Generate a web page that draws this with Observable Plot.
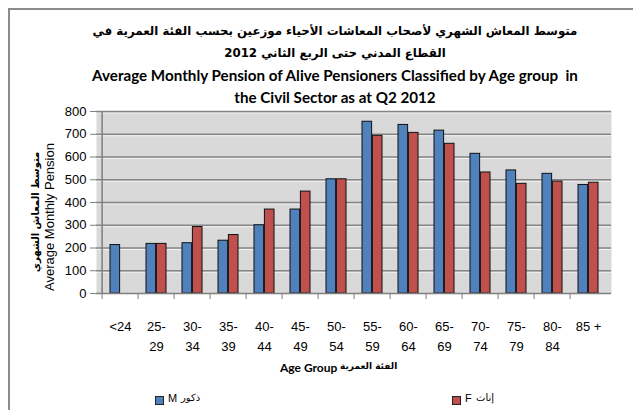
<!DOCTYPE html>
<html>
<head>
<meta charset="utf-8">
<script src="https://cdn.jsdelivr.net/npm/d3@7"></script>
<script src="https://cdn.jsdelivr.net/npm/@observablehq/plot@0.6"></script>
<style>
  html, body { margin: 0; padding: 0; background: #fff; }
  #wrap { position: relative; width: 633px; height: 410px; overflow: hidden; background: #fff; }
  #border { position: absolute; left: 8px; top: 8px; width: 640px; height: 420px; border-left: 2px solid #8c8c8c; border-top: 2px solid #8c8c8c; box-sizing: border-box; }
  .t { position: absolute; left: 35px; width: 600px; text-align: center; white-space: nowrap; color: #000; font-weight: bold; }
  .ar { font-family: "DejaVu Sans", sans-serif; font-size: 11.8px; direction: rtl; }
  .en { font-family: Lato, "Open Sans", sans-serif; font-size: 15.2px; }
  #chart { position: absolute; left: 0; top: 100px; }
  .lab { position: absolute; white-space: nowrap; color: #000; }
  .sw { position: absolute; width: 7px; height: 7px; border: 1px solid #222; }
</style>
</head>
<body>
<div id="wrap">
  <div id="border"></div>
  <div class="t ar" style="top:24px;">متوسط المعاش الشهري لأصحاب المعاشات الأحياء موزعين بحسب الفئة العمرية في</div>
  <div class="t ar" style="top:46px;">القطاع المدني حتى الربع الثاني 2012</div>
  <div class="t en" style="top:66px;">Average Monthly Pension of Alive Pensioners Classified by Age group&nbsp; in</div>
  <div class="t en" style="top:88px;">the Civil Sector as at Q2 2012</div>
  <div id="chart"></div>
  <div class="lab" style="left:280px; top:360px; font-family:Lato, sans-serif; font-weight:bold; font-size:12px;">Age Group</div>
  <div class="lab" style="left:340px; top:361px; font-family:'DejaVu Sans', sans-serif; font-weight:bold; font-size:9px; direction:rtl;">الفئة العمرية</div>
  <div class="sw" style="left:155px; top:396px; background:#4f81bd;"></div>
  <div class="lab" style="left:168px; top:392px; font-family:'Liberation Sans', sans-serif; font-size:11px;">M</div>
  <div class="lab" style="left:181px; top:392px; font-family:'DejaVu Sans', sans-serif; font-size:10px; direction:rtl;">ذكور</div>
  <div class="sw" style="left:452px; top:396px; background:#c0504d;"></div>
  <div class="lab" style="left:465px; top:392px; font-family:'Liberation Sans', sans-serif; font-size:11px;">F</div>
  <div class="lab" style="left:476px; top:392px; font-family:'DejaVu Sans', sans-serif; font-size:10px; direction:rtl;">إناث</div>
  <div class="lab" style="left:49px; top:217px; transform:translate(-50%,-50%) rotate(-90deg); font-family:'Liberation Sans', sans-serif; font-size:13px;">Average Monthly Pension</div>
  <div class="lab" style="left:35px; top:212px; transform:translate(-50%,-50%) rotate(-90deg); font-family:'DejaVu Sans', sans-serif; font-weight:bold; font-size:10px; direction:rtl;">متوسط المعاش الشهري</div>
</div>
<script>
const ages = ["<24","25-29","30-34","35-39","40-44","45-49","50-54","55-59","60-64","65-69","70-74","75-79","80-84","85 +"];
const tickLabels = ["<24","25-\n29","30-\n34","35-\n39","40-\n44","45-\n49","50-\n54","55-\n59","60-\n64","65-\n69","70-\n74","75-\n79","80-\n84","85 +"];
const male   = [213, 218, 221, 232, 300, 369, 502, 755, 741, 716, 614, 541, 526, 477];
const female = [null, 218, 292, 257, 369, 448, 502, 693, 706, 658, 532, 482, 492, 487];
const yTicks = [0,100,200,300,400,500,600,700,800];

const rows = [];
ages.forEach((a, i) => {
  if (male[i] != null) rows.push({age: a, sex: "M", v: male[i]});
  if (female[i] != null) rows.push({age: a, sex: "F", v: female[i]});
});

const W = 633, ML = 96, MR = 22;
const bw = (W - ML - MR) / ages.length;
const gap = 8, barW = 10.4;

const chart = Plot.plot({
  width: W, height: 310,
  marginTop: 11, marginBottom: 117, marginLeft: ML, marginRight: MR,
  style: {fontFamily: "'Liberation Sans', Arial, sans-serif", fontSize: "13px", background: "transparent", overflow: "visible"},
  x: {domain: ages, padding: 0, axis: null},
  y: {domain: [0, 800], axis: null},
  marks: [
    Plot.frame({fill: "#d9d9d9", stroke: "none"}),
    Plot.ruleY(yTicks.filter(d => d > 0), {stroke: "#f2f2f2", strokeWidth: 1, dy: 1.5}),
    Plot.ruleY(yTicks.filter(d => d > 0), {stroke: "#858585", strokeWidth: 1.6}),
    Plot.barY(rows.filter(d => d.sex === "M"), {x: "age", y: "v", fill: "#4f81bd", stroke: "#111", strokeWidth: 1,
      insetLeft: gap, insetRight: bw - gap - barW}),
    Plot.barY(rows.filter(d => d.sex === "F"), {x: "age", y: "v", fill: "#c0504d", stroke: "#111", strokeWidth: 1,
      insetLeft: gap + barW, insetRight: bw - gap - 2 * barW}),
    Plot.ruleY([0], {stroke: "#7f7f7f", strokeWidth: 1.5}),
    Plot.ruleX([ages[0]], {dx: -bw / 2, stroke: "#7f7f7f", strokeWidth: 1.5}),
    Plot.axisY({ticks: yTicks, tickSize: 6, tickPadding: 4, stroke: "#7f7f7f", fontSize: 13, fill: "#000", label: null}),
    Plot.axisX({tickSize: 6, dx: -bw / 2, text: null, stroke: "#7f7f7f", label: null}),
    Plot.axisX({tickSize: 0, tickPadding: 24, tickFormat: (d) => tickLabels[ages.indexOf(d)], fontSize: 13, fill: "#000", lineHeight: 1.5, label: null})
  ]
});
document.getElementById("chart").appendChild(chart);
</script>
</body>
</html>
